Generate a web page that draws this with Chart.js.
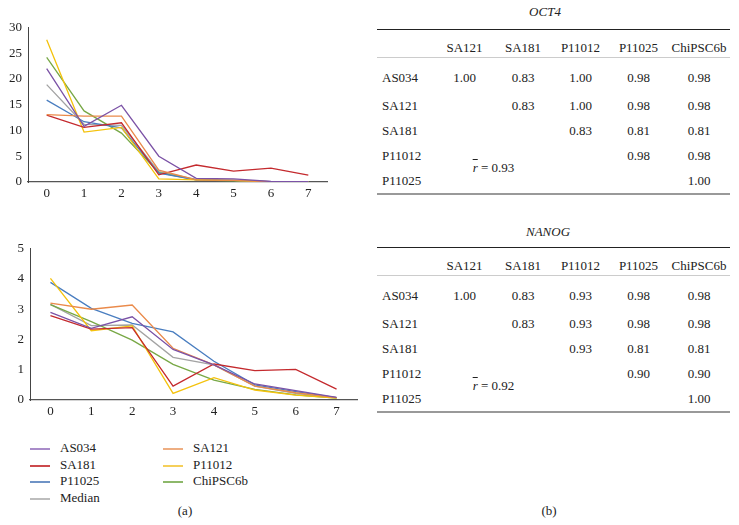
<!DOCTYPE html>
<html>
<head>
<meta charset="utf-8">
<script src="https://cdn.jsdelivr.net/npm/chart.js@4"></script>
<style>
  body { margin: 0; background: #fff; font-family: "Liberation Serif", "Times New Roman", Tinos, "DejaVu Serif", serif; color: #222; }
  #page { position: relative; width: 739px; height: 525px; overflow: hidden; }
  .box { position: absolute; }
  .leg { position: absolute; font-size: 13px; line-height: 16px; }
  .leg span.ln { display: inline-block; width: 20px; height: 2px; vertical-align: middle; margin-right: 10px; }
  .ttl { position: absolute; font-style: italic; font-size: 13px; width: 120px; text-align: center; }
  table.cor { position: absolute; left: 377px; width: 353px; border-collapse: collapse; font-size: 13px; table-layout: fixed; }
  table.cor td { padding: 0; text-align: center; height: 25px; vertical-align: middle; white-space: nowrap; }
  table.cor td.rn { text-align: left; padding-left: 5px; }
  table.cor tr.hd td { height: 26px; vertical-align: bottom; padding-bottom: 1px; border-top: 1px solid #222; border-bottom: 1px solid #ccc; }
  table.cor tr.r1 td { height: 30px; padding-top: 5px; }
  table.cor tr.last td { border-bottom: 2px solid #999; }
  .rb { font-style: italic; text-decoration: overline; }
  .cap { position: absolute; font-size: 13px; width: 40px; text-align: center; }
</style>
</head>
<body>
<div id="page">
  <div class="box" style="left:0;top:0;width:340px;height:200px"><canvas id="oct4Chart"></canvas></div>
  <div class="box" style="left:0;top:230px;width:370px;height:190px"><canvas id="nanogChart"></canvas></div>

  <div id="legend"></div>
  <div class="cap" style="left:165px;top:503px">(a)</div>
  <div class="cap" style="left:529px;top:503px">(b)</div>

  <div class="ttl" style="left:485px;top:4px">OCT4</div>
  <div id="oct4Table"></div>
  <div class="ttl" style="left:488px;top:224px">NANOG</div>
  <div id="nanogTable"></div>
</div>
<script>
// x axis
let days = ['0', '1', '2', '3', '4', '5', '6', '7'];
let lines = ['AS034', 'SA121', 'SA181', 'P11012', 'P11025', 'ChiPSC6b', 'Median'];

// OCT4 expression per line
let oct4AS034 = [22.0, 10.8, 14.9, 5.0, 0.7, 0.6, 0.1, 0.05];
let oct4SA121 = [13.1, 12.8, 12.8, 2.3, 0.4, 0.3, 0.05, 0];
let oct4SA181 = [13.0, 10.6, 11.5, 1.4, 3.3, 2.1, 2.7, 1.35];
let oct4P11012 = [27.6, 9.7, 10.6, 0.6, 0.4, 0.3, 0, 0];
let oct4P11025 = [15.9, 11.7, 10.5, 1.7, 0.4, 0.3, 0.05, 0];
let oct4ChiPSC6b = [24.2, 13.8, 9.5, 1.8, 0.4, 0.2, 0, 0];
let oct4Median = [18.9, 11.2, 11.0, 2.0, 0.5, 0.3, 0.05, 0];

// NANOG expression per line
let nanogAS034 = [2.9, 2.37, 2.75, 1.67, 1.16, 0.53, 0.31, 0.09];
let nanogSA121 = [3.2, 3.0, 3.14, 1.71, 1.16, 0.46, 0.24, 0.08];
let nanogSA181 = [2.79, 2.34, 2.39, 0.46, 1.19, 0.97, 1.01, 0.36];
let nanogP11012 = [4.02, 2.29, 2.45, 0.22, 0.74, 0.33, 0.16, 0.06];
let nanogP11025 = [3.89, 3.03, 2.53, 2.25, 1.28, 0.5, 0.28, 0.08];
let nanogChiPSC6b = [3.15, 2.59, 1.98, 1.18, 0.66, 0.35, 0.17, 0.06];
let nanogMedian = [3.16, 2.46, 2.48, 1.41, 1.16, 0.46, 0.22, 0.08];

// correlation tables
let colHeads = ['SA121', 'SA181', 'P11012', 'P11025', 'ChiPSC6b'];
let rowHeads = ['AS034', 'SA121', 'SA181', 'P11012', 'P11025'];
let oct4R = [
    ['1.00', '0.83', '1.00', '0.98', '0.98'],
    ['', '0.83', '1.00', '0.98', '0.98'],
    ['', '', '0.83', '0.81', '0.81'],
    ['', '', '', '0.98', '0.98'],
    ['', '', '', '', '1.00']
];
let nanogR = [
    ['1.00', '0.83', '0.93', '0.98', '0.98'],
    ['', '0.83', '0.93', '0.98', '0.98'],
    ['', '', '0.93', '0.81', '0.81'],
    ['', '', '', '0.90', '0.90'],
    ['', '', '', '', '1.00']
];
let oct4Mean = '0.93';
let nanogMean = '0.92';

const colors = {
    AS034: '#7b52a6',
    SA121: '#ea8a4a',
    SA181: '#c42a2e',
    P11012: '#f4c20d',
    P11025: '#4a7ec0',
    ChiPSC6b: '#78a846',
    Median: '#a3a3a3'
};
const legendColors = {
    AS034: '#a98cc9',
    SA121: '#eeae82',
    SA181: '#cc4a4c',
    P11012: '#f5cf5a',
    P11025: '#6f93c6',
    ChiPSC6b: '#8db86a',
    Median: '#bdbdbd'
};

const oct4Data = [oct4AS034, oct4SA121, oct4SA181, oct4P11012, oct4P11025, oct4ChiPSC6b, oct4Median];
const nanogData = [nanogAS034, nanogSA121, nanogSA181, nanogP11012, nanogP11025, nanogChiPSC6b, nanogMedian];

const tickFont = { family: '"Liberation Serif", "Times New Roman", Tinos, "DejaVu Serif", serif', size: 13 };

function makeChart(id, values, yMax, yStep, yWidth, xHeight, padding) {
    return new Chart(document.getElementById(id), {
        type: 'line',
        data: {
            labels: days,
            datasets: lines.map((name, i) => ({
                label: name,
                data: values[i],
                borderColor: colors[name],
                borderWidth: 1.3,
                pointRadius: 0,
                tension: 0,
                fill: false
            }))
        },
        options: {
            responsive: true,
            maintainAspectRatio: false,
            animation: false,
            layout: { padding: padding },
            plugins: { legend: { display: false }, tooltip: { enabled: false } },
            scales: {
                x: {
                    offset: true,
                    grid: { display: false, drawTicks: false },
                    border: { display: true, color: '#555', width: 1.3 },
                    ticks: { font: tickFont, color: '#222', padding: 4 },
                    afterFit: (s) => { s.height = xHeight; }
                },
                y: {
                    min: 0,
                    max: yMax,
                    grid: { display: false, drawTicks: false },
                    border: { display: true, color: '#444', width: 1 },
                    ticks: { font: tickFont, color: '#222', stepSize: yStep, padding: 6 },
                    afterFit: (s) => { s.width = yWidth; }
                }
            }
        }
    });
}

makeChart('oct4Chart', oct4Data, 30, 5, 28, 18, { top: 27.5, right: 13, left: 0, bottom: 0 });
makeChart('nanogChart', nanogData, 5, 1, 30, 20, { top: 18.75, right: 13, left: 0, bottom: 0 });

// legend, two columns
const legendCols = [['AS034', 'SA181', 'P11025', 'Median'], ['SA121', 'P11012', 'ChiPSC6b']];
const legendX = [30, 163];
let lg = '';
legendCols.forEach((col, c) => {
    col.forEach((name, r) => {
        lg += '<div class="leg" style="left:' + legendX[c] + 'px;top:' + (440 + r * 16.7) + 'px">' +
            '<span class="ln" style="background:' + legendColors[name] + '"></span>' + name + '</div>';
    });
});
document.getElementById('legend').innerHTML = lg;

function makeTable(id, top, vals, mean) {
    let h = '<table class="cor" style="top:' + top + 'px"><colgroup>' +
        '<col style="width:58px"><col style="width:59px"><col style="width:58px">' +
        '<col style="width:57px"><col style="width:59px"><col style="width:62px"></colgroup>';
    h += '<tr class="hd"><td></td>' + colHeads.map(c => '<td>' + c + '</td>').join('') + '</tr>';
    rowHeads.forEach((rn, r) => {
        let cls = r === 0 ? 'r1' : (r === rowHeads.length - 1 ? 'last' : '');
        h += '<tr class="' + cls + '"><td class="rn">' + rn + '</td>';
        vals[r].forEach((v, c) => {
            if (r === 3 && c === 0) {
                h += '<td colspan="2" rowspan="2" style="border-bottom:2px solid #999"><span class="rb">r</span> = ' + mean + '</td>';
            } else if ((r === 3 || r === 4) && c < 2) {
                // covered by the mean cell
            } else {
                h += '<td>' + v + '</td>';
            }
        });
        h += '</tr>';
    });
    h += '</table>';
    document.getElementById(id).innerHTML = h;
}

makeTable('oct4Table', 29, oct4R, oct4Mean);
makeTable('nanogTable', 247, nanogR, nanogMean);
</script>
</body>
</html>
